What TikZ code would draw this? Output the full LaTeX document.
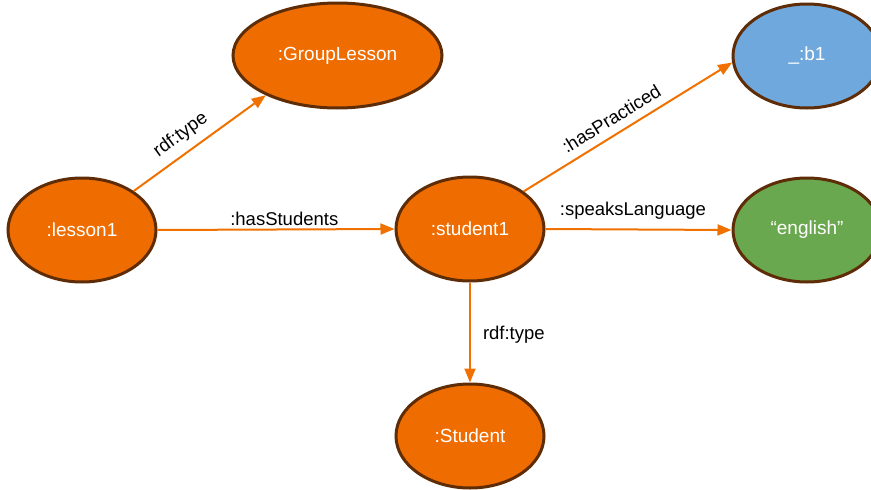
\documentclass[tikz,border=0pt]{standalone}
\usepackage{fontspec}
\setmainfont{Liberation Sans}
\usetikzlibrary{shapes.geometric,arrows.meta}
\definecolor{nodeorange}{HTML}{EF6D00}
\definecolor{edgeorange}{HTML}{F07000}
\definecolor{nodeborder}{HTML}{5E2D08}
\definecolor{nodeblue}{HTML}{6FA8DC}
\definecolor{nodegreen}{HTML}{6AA84F}
\tikzset{
  res/.style={ellipse, draw=nodeborder, line width=3pt, fill=nodeorange,
    text=white, minimum width=148pt, minimum height=104pt, inner sep=0pt,
    font=\fontsize{19}{22}\selectfont},
  rel/.style={draw=edgeorange, line width=2pt, -{Triangle[length=14pt,width=11pt]}},
  lab/.style={inner sep=0pt, text=black, font=\fontsize{18.5}{21}\selectfont}
}
\begin{document}
\begin{tikzpicture}[x=1pt,y=-1pt]
\useasboundingbox (0,0) rectangle (871,490);
\node[res] (lesson1) at (82,230) {:lesson1};
\node[res, minimum width=209pt, minimum height=105pt] (group) at (337.5,55.5) {:GroupLesson};
\node[res, fill=nodeblue, minimum height=104pt] (b1) at (807,56) {\_:b1};
\node[res] (student1) at (470,229) {:student1};
\node[res, fill=nodegreen] (english) at (807,230) {“english”};
\node[res] (student) at (470,436) {:Student};

\draw[rel] (lesson1.37) -- node[lab, pos=0.435, sloped, above=8pt] {rdf:type} (group.209);
\draw[rel] (lesson1.east) -- node[lab, pos=0.535, above=3pt] {:hasStudents} (student1.west);
\draw[rel] (student1.35) -- node[lab, pos=0.46, sloped, above=8pt] {:hasPracticed} (b1.185);
\draw[rel] (student1.east) -- node[lab, pos=0.47, above=9pt] {:speaksLanguage} (english.west);
\draw[rel] (student1.south) -- node[lab, pos=0.52, right=12pt] {rdf:type} (student.north);
\end{tikzpicture}
\end{document}
